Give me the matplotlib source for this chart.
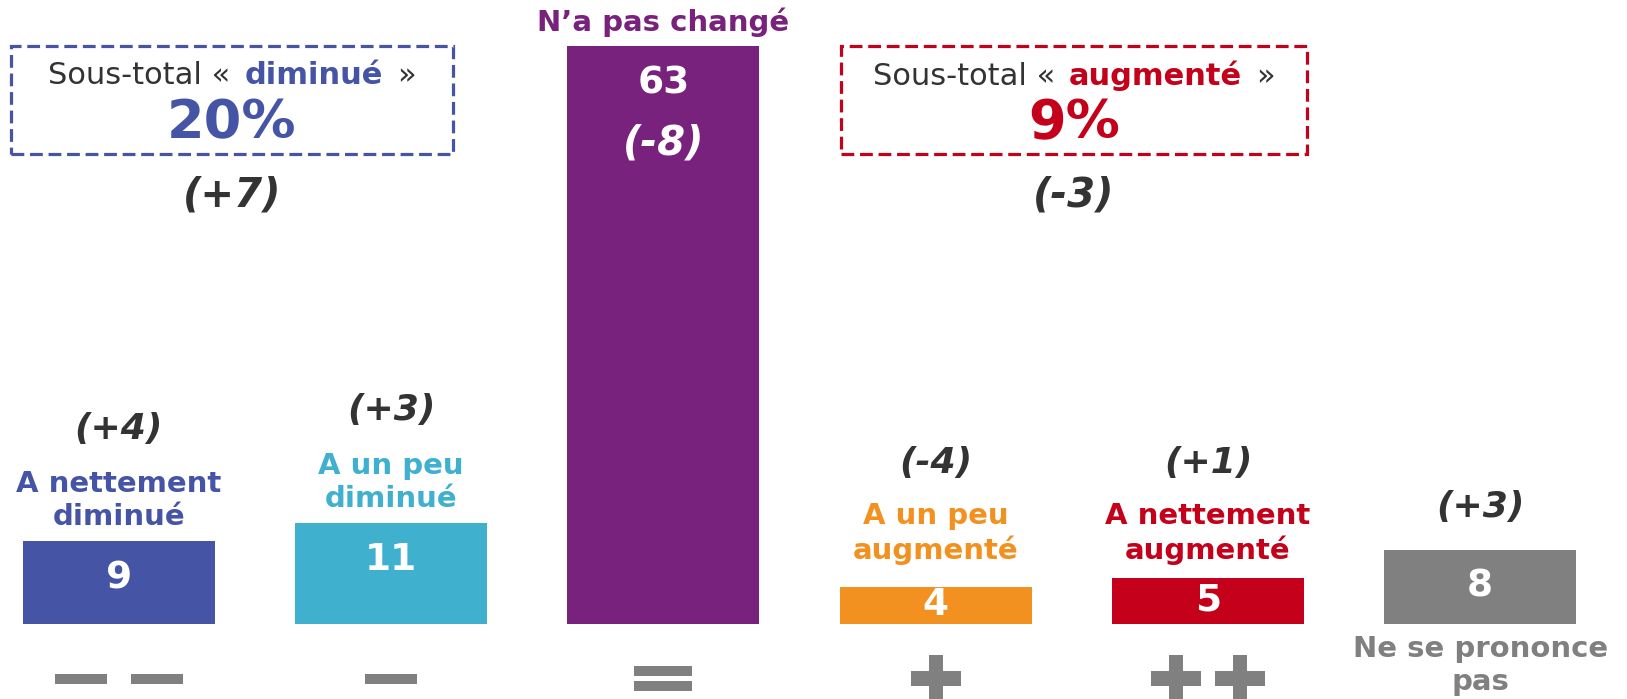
import matplotlib
matplotlib.use('Agg')
import matplotlib.pyplot as plt
from matplotlib.patches import Rectangle
from matplotlib.offsetbox import TextArea, HPacker, AnnotationBbox

# ---------------- data ----------------
categories = ["A nettement\ndiminué", "A un peu\ndiminué", "N’a pas changé",
              "A un peu\naugmenté", "A nettement\naugmenté", "Ne se prononce\npas"]
values = [9, 11, 63, 4, 5, 8]
changes = ["(+4)", "(+3)", "(-8)", "(-4)", "(+1)", "(+3)"]
colors = ["#4654A5", "#3FB0CE", "#78217D", "#F39120", "#C4001A", "#808080"]
symbols = ["--", "-", "=", "+", "++", ""]
label_pos = ["above", "above", "above", "above", "above", "below"]

subtotal_words = ["diminué", "augmenté"]
subtotal_values = [sum(values[0:2]), sum(values[3:5])]
subtotal_changes = ["(+7)", "(-3)"]
subtotal_colors = ["#4654A5", "#C4001A"]

DARK = "#333333"
GREY = "#808080"
W, H = 1627, 699

fig = plt.figure(figsize=(W / 100, H / 100), dpi=100)
ax = fig.add_axes([0, 0, 1, 1])
ax.set_xlim(-0.4363, 5.5389)
ax.set_ylim(-8.23, 68.06)
ax.axis('off')

x = list(range(len(values)))
ax.bar(x, values, width=0.705, color=colors)

fig.canvas.draw()
ppu = ax.transData.transform((0, 1))[1] - ax.transData.transform((0, 0))[1]

FS_CAT = 21
FS_CHG = 26
FS_VAL = 27
LS = 1.25
MIN_LABEL_BASE = 5.3  # small bars: labels do not sink lower than this level

for i, (v, cat, ch, col, pos) in enumerate(zip(values, categories, changes, colors, label_pos)):
    # value inside bar
    yv = max(v - 37.4 / ppu, v / 2)
    ax.text(i, yv, str(v), ha='center', va='center', color='white',
            fontsize=FS_VAL, fontweight='bold')
    if pos == "below":
        ax.annotate(cat, xy=(i, 0), xytext=(0, -8), textcoords='offset points',
                    ha='center', va='top', fontsize=FS_CAT, fontweight='bold',
                    color=col, linespacing=LS)
        ax.annotate(ch, xy=(i, v), xytext=(0, 31), textcoords='offset points',
                    ha='center', va='center', fontsize=FS_CHG, fontweight='bold',
                    fontstyle='italic', color=DARK)
    else:
        base = max(v, MIN_LABEL_BASE)
        ax.annotate(cat, xy=(i, base), xytext=(0, 7), textcoords='offset points',
                    ha='center', va='bottom', fontsize=FS_CAT, fontweight='bold',
                    color=col, linespacing=LS)
        if v > 30:
            ax.annotate(ch, xy=(i, v), xytext=(0, -70), textcoords='offset points',
                        ha='center', va='center', fontsize=29, fontweight='bold',
                        fontstyle='italic', color='white')
        else:
            ax.annotate(ch, xy=(i, base), xytext=(0, 81), textcoords='offset points',
                        ha='center', va='center', fontsize=FS_CHG, fontweight='bold',
                        fontstyle='italic', color=DARK)


def rect_px(cx, cy, w, h, **kw):
    """rectangle centred at pixel (cx, cy) with cy measured from the top"""
    r = Rectangle(((cx - w / 2) / W, (H - cy - h / 2) / H), w / W, h / H,
                  transform=fig.transFigure, **kw)
    fig.add_artist(r)


# bottom symbols
for i, s in enumerate(symbols):
    cx = ax.transData.transform((i, 0))[0]
    if s == "--":
        for off in (-38, 38):
            rect_px(cx + off, 679, 52, 10, color=GREY, lw=0)
    elif s == "-":
        rect_px(cx, 679, 52, 10, color=GREY, lw=0)
    elif s == "=":
        for cy in (671, 686):
            rect_px(cx, cy, 58, 10, color=GREY, lw=0)
    elif s in ("+", "++"):
        offs = (0,) if s == "+" else (-32, 32)
        for off in offs:
            rect_px(cx + off, 678.5, 50, 15, color=GREY, lw=0)
            rect_px(cx + off, 678.5, 14, 47, color=GREY, lw=0)

# subtotal boxes
boxes_px = [(11, 453), (841, 1307)]
for (x0, x1), word, val, chg, col in zip(boxes_px, subtotal_words, subtotal_values,
                                         subtotal_changes, subtotal_colors):
    fig.add_artist(Rectangle((x0 / W, (H - 154) / H), (x1 - x0) / W, (154 - 46) / H,
                             transform=fig.transFigure, fill=False, ec=col, lw=2.3,
                             ls=(0, (4, 1.8))))
    cxf = (x0 + x1) / 2 / W
    parts = [TextArea("Sous-total «", textprops=dict(fontsize=22, color=DARK)),
             TextArea(word, textprops=dict(fontsize=22, color=col, fontweight='bold')),
             TextArea("»", textprops=dict(fontsize=22, color=DARK))]
    row = HPacker(children=parts, align='baseline', pad=0, sep=10)
    ab = AnnotationBbox(row, (cxf, (H - 76) / H), xycoords='figure fraction',
                        frameon=False, box_alignment=(0.5, 0.5), pad=0)
    fig.add_artist(ab)
    fig.text(cxf, (H - 123) / H, f"{val}%", ha='center', va='center', fontsize=39,
             fontweight='bold', color=col)
    fig.text(cxf, (H - 196) / H, chg, ha='center', va='center', fontsize=29,
             fontweight='bold', fontstyle='italic', color=DARK)

fig.savefig("out.png", dpi=100)
